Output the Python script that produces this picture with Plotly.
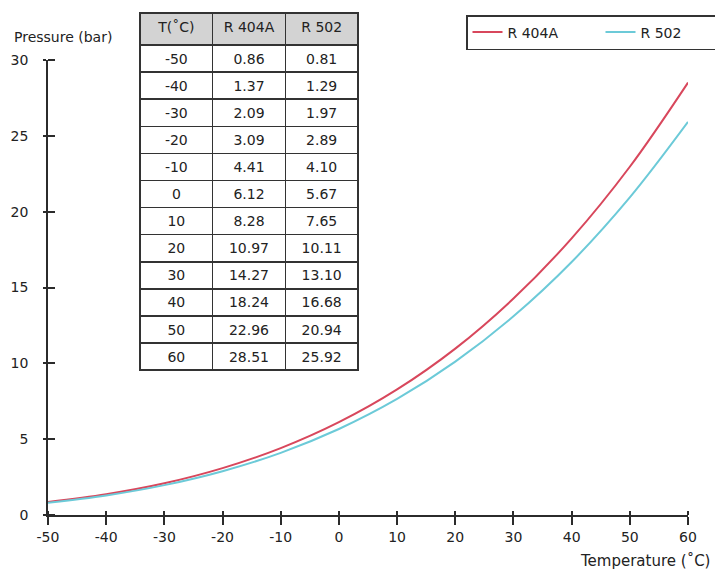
import plotly.graph_objects as go

# Saturation pressure of two refrigerants
temperature_c = [-50, -40, -30, -20, -10, 0, 10, 20, 30, 40, 50, 60]
r404a_bar = [0.86, 1.37, 2.09, 3.09, 4.41, 6.12, 8.28, 10.97, 14.27, 18.24, 22.96, 28.51]
r502_bar = [0.81, 1.29, 1.97, 2.89, 4.10, 5.67, 7.65, 10.11, 13.10, 16.68, 20.94, 25.92]

table_header = ["T(˚C)", "R 404A", "R 502"]
x_ticks = [-50, -40, -30, -20, -10, 0, 10, 20, 30, 40, 50, 60]
y_ticks = [0, 5, 10, 15, 20, 25, 30]

FONT = "DejaVu Sans"
TXT = "#222222"
RED = "#d8475c"
CYAN = "#6ccad8"
AXIS = "#2b2b2b"

# plot area spans 48..688 px horizontally and 10..515 px vertically
L, R, T, B = 48, 27, 10, 61
PW, PH = 715 - L - R, 576 - T - B


def px_x(px):
    return (px - L) / PW


def px_y(py):
    return (576 - B - py) / PH


fig = go.Figure()

fig.add_trace(go.Scatter(
    x=temperature_c, y=r404a_bar, name="R 404A", mode="lines",
    line=dict(color=RED, width=2, shape="spline", smoothing=1.0),
))
fig.add_trace(go.Scatter(
    x=temperature_c, y=r502_bar, name="R 502", mode="lines",
    line=dict(color=CYAN, width=2, shape="spline", smoothing=1.0),
))

fig.add_trace(go.Table(
    domain=dict(x=[px_x(140), px_x(358)], y=[px_y(400), px_y(13)]),
    columnwidth=[1, 1, 1],
    header=dict(
        values=table_header,
        fill_color="#d3d3d3",
        line=dict(color="#333333", width=1.5),
        align="center",
        height=32,
        font=dict(family=FONT, size=14, color=TXT),
    ),
    cells=dict(
        values=[
            [f"{t}" for t in temperature_c],
            [f"{v:.2f}" for v in r404a_bar],
            [f"{v:.2f}" for v in r502_bar],
        ],
        fill_color="white",
        line=dict(color="#333333", width=1.5),
        align="center",
        height=27.1,
        font=dict(family=FONT, size=14, color=TXT),
    ),
))

fig.update_layout(
    width=715, height=576,
    margin=dict(l=L, r=R, t=T, b=B, autoexpand=False),
    paper_bgcolor="white", plot_bgcolor="white",
    font=dict(family=FONT, size=14, color=TXT),
    showlegend=True,
    legend=dict(
        orientation="h",
        x=px_x(466), y=px_y(15),
        xanchor="left", yanchor="top",
        bgcolor="white",
        bordercolor="#333333", borderwidth=1.5,
        entrywidth=88,
        font=dict(family=FONT, size=14, color=TXT),
        itemclick=False,
    ),
    xaxis=dict(
        range=[-50, 60], domain=[0, 1],
        tickvals=x_ticks, ticktext=[str(v) for v in x_ticks],
        showline=True, linecolor=AXIS, linewidth=1.5,
        ticks="outside", ticklen=8, tickwidth=1.5, tickcolor=AXIS,
        minor=dict(tickvals=x_ticks, ticks="inside", ticklen=4,
                   tickwidth=1.5, tickcolor=AXIS),
        showgrid=False, zeroline=False,
        tickfont=dict(family=FONT, size=14, color=TXT),
        fixedrange=True,
    ),
    yaxis=dict(
        range=[0, 30], domain=[0, px_y(60)],
        tickvals=y_ticks, ticktext=[str(v) for v in y_ticks],
        showline=True, linecolor=AXIS, linewidth=1.5,
        ticks="outside", ticklen=3, tickwidth=1.5, tickcolor=AXIS,
        minor=dict(tickvals=y_ticks, ticks="inside", ticklen=7,
                   tickwidth=1.5, tickcolor=AXIS),
        ticklabelstandoff=12,
        showgrid=False, zeroline=False,
        tickfont=dict(family=FONT, size=14, color=TXT),
        fixedrange=True,
    ),
    annotations=[
        dict(text="Pressure (bar)", xref="paper", yref="paper",
             x=px_x(12), y=px_y(37), xanchor="left", yanchor="middle",
             showarrow=False, font=dict(family=FONT, size=14, color=TXT)),
        dict(text="Temperature (˚C)", xref="paper", yref="paper",
             x=px_x(712), y=px_y(561), xanchor="right", yanchor="middle",
             showarrow=False, font=dict(family=FONT, size=15, color=TXT)),
    ],
)

fig.write_html("out.html")
